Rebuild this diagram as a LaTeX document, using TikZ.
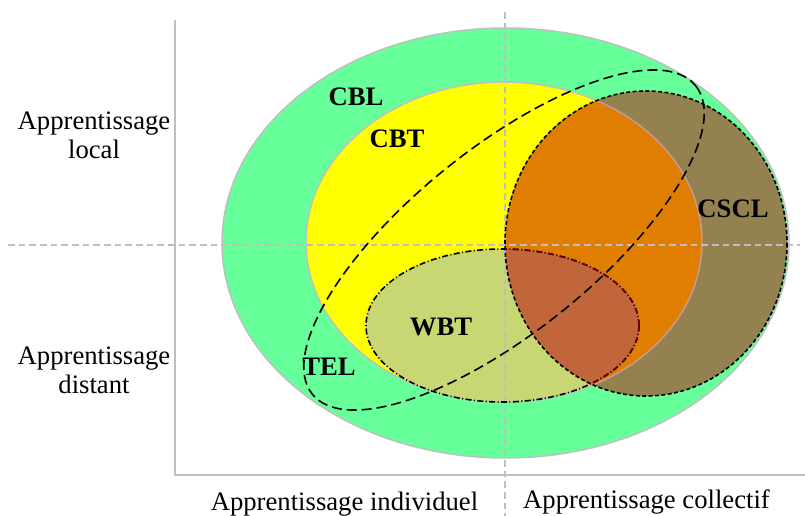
\documentclass[tikz,border=0pt]{standalone}
\usepackage{fontspec}
\setmainfont{Liberation Serif}
\definecolor{cblgreen}{HTML}{66FF99}
\definecolor{cbtyellow}{HTML}{FFFF00}
\definecolor{csclbrown}{HTML}{948150}
\definecolor{cbtorange}{HTML}{DF7E00}
\definecolor{wbtolive}{HTML}{C8D673}
\definecolor{wbtbrick}{HTML}{C0663A}
\newcommand{\axiscolor}{black!25}
\newcommand{\cbtrimcolor}{red!45!black!40!white}
\newcommand{\wbtrimcolor}{red!40!black}

\begin{document}
\begin{tikzpicture}[x=0.75pt,y=-0.75pt,
  axislabel/.style={font=\fontsize{20}{21.5}\selectfont, align=center},
  setlabel/.style={font=\fontsize{20}{24}\selectfont\bfseries},
  wbtrim/.style={line width=1.2pt, dash pattern=on 4.5pt off 1.8pt on 0.8pt off 1.8pt}]
\useasboundingbox (0,0) rectangle (805,516);

% CBL et CBT
\filldraw[fill=cblgreen,draw=\axiscolor,line width=1.1pt] (505.5,243) ellipse [x radius=283.5, y radius=215];
\filldraw[fill=cbtyellow,draw=\axiscolor,line width=1.1pt] (504,242) ellipse [x radius=198, y radius=160];

% CSCL, avec la partie commune a CBT
\fill[csclbrown] (646,243.5) ellipse [x radius=141, y radius=152.5];
\begin{scope}
\clip (646,243.5) ellipse [x radius=141, y radius=152.5];
\filldraw[fill=cbtorange,draw=\cbtrimcolor,line width=1.1pt] (504,242) ellipse [x radius=198, y radius=160];
\end{scope}

% WBT
\fill[wbtolive] (502.5,325.5) ellipse [x radius=136.5, y radius=76.5];
\begin{scope}
\clip (646,243.5) ellipse [x radius=141, y radius=152.5];
\fill[wbtbrick] (502.5,325.5) ellipse [x radius=136.5, y radius=76.5];
\end{scope}

% axes
\draw[\axiscolor, line width=1.25pt] (175,20) -- (175,475) -- (805,475);
\draw[\axiscolor, line width=1.1pt, dash pattern=on 5pt off 3pt] (505,12) -- (505,516);
\draw[\axiscolor, line width=1.1pt, dash pattern=on 5pt off 3pt] (8,245) -- (800,245);

% contours
\draw[black, line width=1.2pt, dash pattern=on 3pt off 1.8pt] (646,243.5) ellipse [x radius=141, y radius=152.5];
\draw[black, wbtrim] (502.5,325.5) ellipse [x radius=136.5, y radius=76.5];
\begin{scope}
\clip (646,243.5) ellipse [x radius=141, y radius=152.5];
\draw[\wbtrimcolor, wbtrim] (502.5,325.5) ellipse [x radius=136.5, y radius=76.5];
\end{scope}
\draw[black, line width=1.2pt, dash pattern=on 7.5pt off 3.75pt, rotate around={38.8:(504,240)}] (504,240) ellipse [x radius=246, y radius=92];

\node[setlabel] (cbl) at (356,97) {CBL};
\node[setlabel] (cbt) at (397,139) {CBT};
\node[setlabel] (cscl) at (733,209) {CSCL};
\node[setlabel] (wbt) at (441,327) {WBT};
\node[setlabel] (tel) at (329,367) {TEL};

\node[axislabel] (local) at (94,135.5) {Apprentissage\\local};
\node[axislabel] (distant) at (94,370) {Apprentissage\\distant};
\node[axislabel, anchor=base] (individuel) at (344.5,510) {Apprentissage individuel};
\node[axislabel, anchor=base] (collectif) at (646.5,508) {Apprentissage collectif};

\end{tikzpicture}
\end{document}
